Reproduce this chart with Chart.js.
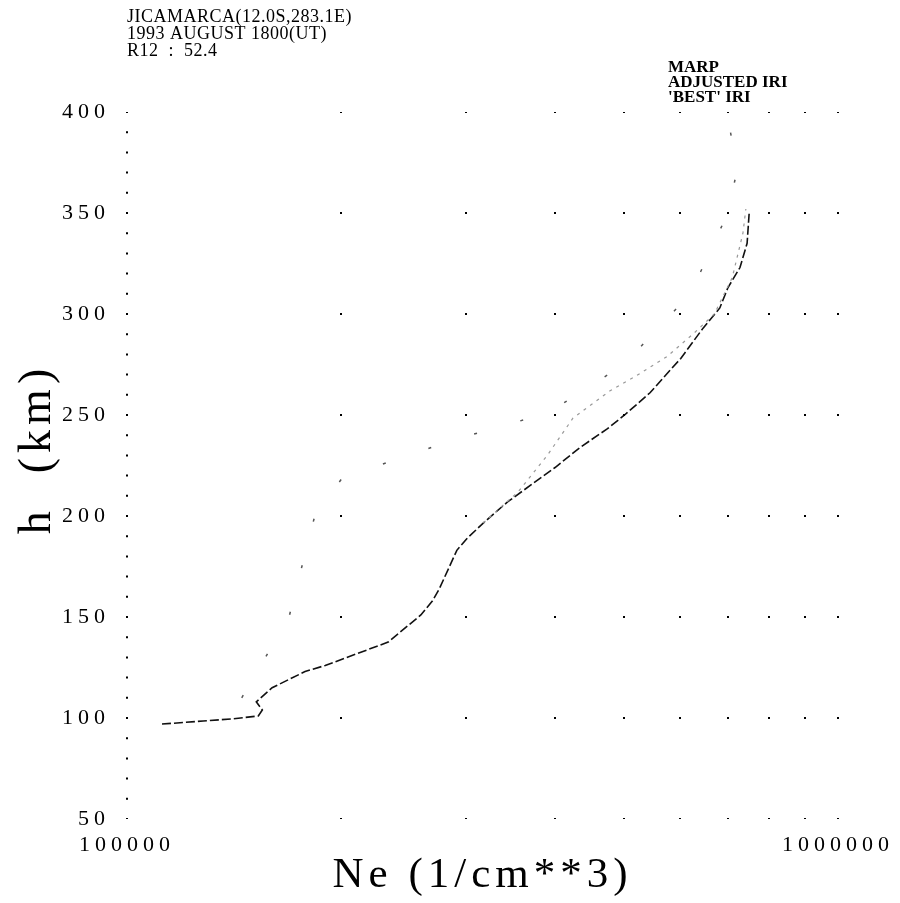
<!DOCTYPE html>
<html lang="en">
<head>
<meta charset="UTF-8">
<title>Jicamarca Ne profile</title>
<script src="https://cdn.jsdelivr.net/npm/chart.js"></script>
<style>
  body { margin: 0; background: #fff; }
  .chart-box { position: relative; width: 900px; height: 903px; }
</style>
</head>
<body>
<div class="chart-box"><canvas id="neProfile"></canvas></div>
<script>
// header text (top left)
const headerLines = ['JICAMARCA(12.0S,283.1E)', '1993 AUGUST 1800(UT)', 'R12  :  52.4'];

// axes
const xGridValues = [100000, 200000, 300000, 400000, 500000, 600000, 700000, 800000, 900000, 1000000];
const xTickLabels = { 100000: '100000', 1000000: '1000000' };
const yTicks = [50, 100, 150, 200, 250, 300, 350, 400];

// 'BEST' IRI profile
const bestNe = [112000, 128000, 140000, 153000, 155000, 152000, 160000, 178000, 190000, 233000,
                259000, 269000, 275000, 291000, 301000, 317000, 343000, 400000, 434000, 473000,
                501000, 544000, 580000, 601000, 646000, 682000, 700000, 728000, 745000, 750000];
const bestH  = [97, 98.5, 99.5, 101, 104, 108, 115, 123, 126, 137.6,
                151, 158, 164, 183, 189, 196.5, 207, 224, 234, 243,
                250, 261, 272, 278, 293, 303, 313, 323, 335, 350];

// ADJUSTED IRI profile
const adjNe = [317000, 355000, 390000, 424000, 478000, 518000, 575000, 625000, 670000, 710000, 735000, 742000];
const adjH  = [196.5, 212, 230, 248.5, 262, 269, 279, 290, 300, 318, 340, 352];

// MARP profile
const marpNe = [145000, 169000, 184000, 201000, 290000, 391000, 500000, 620000, 700000, 722000, 705000];
const marpH  = [110, 150, 201, 219, 238, 251, 275, 310, 350, 372, 391];

const FONT = '"Liberation Serif", "DejaVu Serif", serif';
const toPoints = (ne, h) => ne.map((v, i) => ({ x: v, y: h[i] }));

// dotted grid: dots every 50 km on the grid lines, every 10 km on the left axis
function dotDash(ctx) {
    const y = ctx.chart.scales.y;
    if (!y) return [];
    const step = (ctx.tick && ctx.tick.value === xGridValues[0]) ? 10 : 50;
    const px = Math.abs(y.getPixelForValue(100) - y.getPixelForValue(100 + step));
    return [2, px - 2];
}

// letter spacing + legend text
const plotTextPlugin = {
    id: 'plotText',
    beforeDraw(chart) {
        chart.ctx.letterSpacing = '0.5px';
    },
    afterDatasetsDraw(chart) {
        chart.ctx.letterSpacing = '5px';
    },
    afterDraw(chart) {
        const ctx = chart.ctx;
        const area = chart.chartArea;
        ctx.save();
        ctx.letterSpacing = '0px';
        ctx.font = 'bold 17px ' + FONT;
        ctx.fillStyle = '#000';
        ctx.textAlign = 'left';
        ctx.textBaseline = 'middle';
        chart.data.datasets.forEach((ds, i) => {
            ctx.fillText(ds.label, area.right - 170, area.top - 44 + i * 15);
        });
        ctx.restore();
        ctx.letterSpacing = '0px';
    }
};

const chart = new Chart(document.getElementById('neProfile'), {
    type: 'scatter',
    data: {
        datasets: [
            {
                label: 'MARP',
                data: toPoints(marpNe, marpH),
                showLine: true,
                borderColor: '#555',
                borderWidth: 1.5,
                borderDash: [3, 45],
                pointRadius: 0
            },
            {
                label: 'ADJUSTED IRI',
                data: toPoints(adjNe, adjH),
                showLine: true,
                borderColor: '#999',
                borderWidth: 1.2,
                borderDash: [3, 5],
                pointRadius: 0
            },
            {
                label: "'BEST' IRI",
                data: toPoints(bestNe, bestH),
                showLine: true,
                borderColor: '#111',
                borderWidth: 1.6,
                borderDash: [9, 3],
                pointRadius: 0
            }
        ]
    },
    options: {
        responsive: true,
        maintainAspectRatio: false,
        animation: false,
        layout: { padding: { left: 0, right: 62, top: 0, bottom: 0 } },
        plugins: {
            legend: { display: false },
            tooltip: { enabled: false },
            title: {
                display: true,
                align: 'start',
                fullSize: false,
                text: headerLines,
                color: '#000',
                font: { family: FONT, size: 18, weight: 'normal', lineHeight: '17px' },
                padding: { top: 8.5, bottom: 52.5 }
            }
        },
        scales: {
            x: {
                type: 'logarithmic',
                min: 100000,
                max: 1000000,
                afterBuildTicks: (scale) => { scale.ticks = xGridValues.map(v => ({ value: v })); },
                afterFit: (scale) => { scale.height = 84; },
                grid: { display: true, drawTicks: false, color: '#000', lineWidth: 2, z: 1 },
                border: { display: false, dash: dotDash, dashOffset: 1 },
                ticks: {
                    autoSkip: false,
                    maxRotation: 0,
                    padding: 13,
                    color: '#000',
                    font: { family: FONT, size: 22 },
                    z: 1,
                    callback: (value) => xTickLabels[value] || ''
                },
                title: {
                    display: true,
                    text: 'Ne (1/cm**3)',
                    color: '#000',
                    font: { family: FONT, size: 43 },
                    padding: { top: 0, bottom: 1 }
                }
            },
            y: {
                min: 50,
                max: 400,
                afterBuildTicks: (scale) => { scale.ticks = yTicks.map(v => ({ value: v })); },
                afterFit: (scale) => { scale.width = 127; },
                grid: { display: false, drawTicks: false, z: 1 },
                border: { display: false },
                ticks: {
                    padding: 17,
                    color: '#000',
                    font: { family: FONT, size: 22 },
                    z: 1
                },
                title: {
                    display: true,
                    text: '  h  (km)',
                    color: '#000',
                    font: { family: FONT, size: 46 },
                    padding: { top: 10, bottom: 0 }
                }
            }
        }
    },
    plugins: [plotTextPlugin]
});
</script>
</body>
</html>
